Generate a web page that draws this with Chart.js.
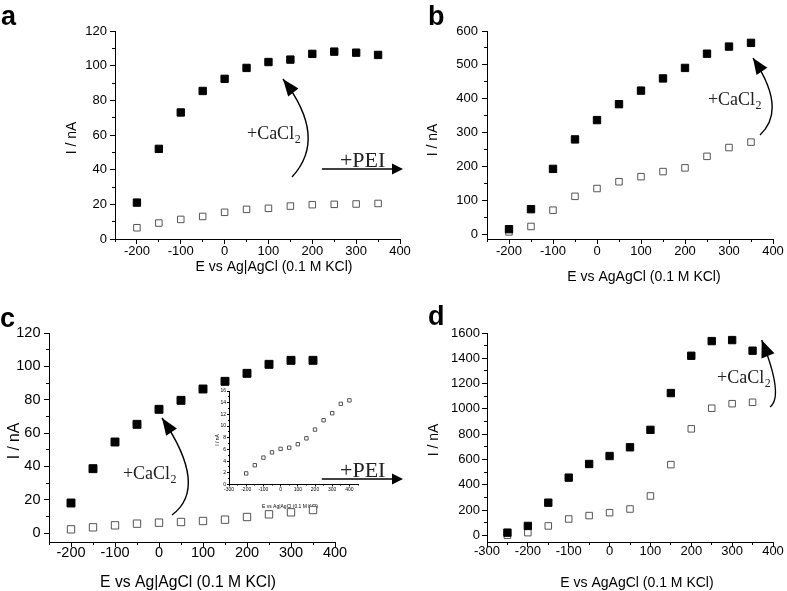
<!DOCTYPE html>
<html>
<head>
<meta charset="utf-8">
<script src="https://cdn.jsdelivr.net/npm/chart.js@4.4.0/dist/chart.umd.min.js"></script>
<style>
  html, body { margin: 0; padding: 0; background: #fff; }
  #wrap { position: relative; width: 787px; height: 591px; overflow: hidden; background: #fff; }
  #wrap canvas { position: absolute; left: 0; top: 0; }
</style>
</head>
<body>
<div id="wrap">
  <canvas id="panelA" width="787" height="591"></canvas>
  <canvas id="panelB" width="787" height="591"></canvas>
  <canvas id="inset" width="787" height="591"></canvas>
  <canvas id="panelC" width="787" height="591"></canvas>
  <canvas id="panelD" width="787" height="591"></canvas>
</div>
<script>
// ============================================
// DATA - potentials (mV) and currents (nA)
// ============================================
const potentials = [-200, -150, -100, -50, 0, 50, 100, 150, 200, 250, 300, 350];
const potentialsD = [-250, -200, -150, -100, -50, 0, 50, 100, 150, 200, 250, 300, 350];
const potentialsInset = [-200, -150, -100, -50, 0, 50, 100, 150, 200, 250, 300, 350, 400];

// filled squares = after CaCl2, open squares = before
const aCaCl2 = [21, 52, 73, 85.4, 92.4, 98.7, 102.1, 103.5, 106.8, 108.1, 107.5, 106.2];
const aBefore = [6.5, 9.2, 11.3, 13, 15.4, 17.1, 17.7, 19, 19.8, 20, 20.2, 20.5];
const bCaCl2 = [15, 74, 193, 280, 337, 384, 424, 460, 491, 533, 554, 565];
const bBefore = [7, 23, 71, 112, 135, 155, 170, 185, 196, 230, 256, 272];
const cCaCl2 = [18, 38.6, 54.6, 65.2, 74.2, 79.6, 86.4, 91, 95.8, 101.2, 103.6, 103.6];
const cBefore = [2.2, 3.4, 4.6, 5.6, 6.2, 6.6, 7.2, 8, 9.6, 11.2, 12.4, 13.8];
const insetBefore = [1.9, 3.3, 4.6, 5.5, 6.1, 6.3, 6.9, 7.9, 9.4, 11, 12.2, 13.8, 14.4];
const dCaCl2 = [21, 74, 258, 456, 564, 627, 696, 834, 1125, 1420, 1536, 1544, 1460];
const dBefore = [0, 21, 74, 129, 156, 179, 208, 311, 559, 842, 1005, 1041, 1052];

// tick labels
const xTicksMain = [-200, -100, 0, 100, 200, 300, 400];
const xTicksWide = [-300, -200, -100, 0, 100, 200, 300, 400];
const yTicks120 = [0, 20, 40, 60, 80, 100, 120];
const yTicks600 = [0, 100, 200, 300, 400, 500, 600];
const yTicks1600 = [0, 200, 400, 600, 800, 1000, 1200, 1400, 1600];
const yTicksInset = [0, 2, 4, 6, 8, 10, 12, 14, 16];

const W = 787, H = 591;
const SANS = 'Liberation Sans, Arial, sans-serif';
const SERIF = 'Liberation Serif, Times New Roman, serif';

// ============================================
// PANEL SETUP - where each plot sits on the page
// ============================================
const panels = [
  {
    id: 'panelA', letter: {text: 'a', x: 1, y: 25},
    area: {left: 115, top: 31, right: 400, bottom: 239},
    xRange: [-250, 400], yRange: [0, 120], xTicks: xTicksMain, yTicks: yTicks120,
    font: 13, titleFont: 14, xPad: 0, yPad: 3, tick: 5, minor: 3,
    xs: potentials, filled: aCaCl2, open: aBefore, rFilled: 5.2, rOpen: 4.6,
    xTitle: {text: 'E vs Ag|AgCl (0.1 M KCl)', x: 274, y: 267},
    yTitle: {text: 'I / nA', x: 72, y: 138},
    curve: {s: [153.7, 35.8], m: [190, 61.2], e: [133, 92.3], len: 17, half: 6.5},
    cacl: [51, 57.7],
    pei: {text: [263, 41.5], from: [222, 40.4], to: [406.8, 40.4]}
  },
  {
    id: 'panelB', letter: {text: 'b', x: 428, y: 25},
    area: {left: 487, top: 31, right: 773, bottom: 239},
    xRange: [-250, 400], yRange: [-14, 600], xTicks: xTicksMain, yTicks: yTicks600,
    font: 13, titleFont: 14, xPad: 0, yPad: 4, tick: 5, minor: 3,
    xs: potentials, filled: bCaCl2, open: bBefore, rFilled: 5.2, rOpen: 4.6,
    xTitle: {text: 'E vs AgAgCl (0.1 M KCl)', x: 644, y: 277},
    yTitle: {text: 'I / nA', x: 433, y: 140},
    curve: {s: [370.5, 293], m: [397.7, 387.4], e: [354.5, 520], len: 16, half: 6.5},
    cacl: [252, 381.5]
  },
  {
    id: 'panelC', letter: {text: 'c', x: 0, y: 327},
    area: {left: 49, top: 333, right: 335, bottom: 542},
    xRange: [-250, 400], yRange: [-5.4, 120], xTicks: xTicksMain, yTicks: yTicks120,
    font: 14.5, titleFont: 15.7, xPad: -2.5, yPad: 3.5, tick: 5, minor: 3,
    xs: potentials, filled: cCaCl2, open: cBefore, rFilled: 5.6, rOpen: 5.2,
    xTitle: {text: 'E vs Ag|AgCl (0.1 M KCl)', x: 188, y: 583},
    yTitle: {text: 'I / nA', x: 15, y: 441},
    curve: {s: [29.5, 10.8], m: [66, 33.6], e: [6.8, 69], len: 17, half: 6.5},
    cacl: [-82, 32.4],
    pei: {text: [411.4, 33.6], from: [370, 32.4], to: [554.5, 32.4]}
  },
  {
    id: 'panelD', letter: {text: 'd', x: 428, y: 325},
    area: {left: 487, top: 333, right: 773, bottom: 542},
    xRange: [-300, 400], yRange: [-53, 1600], xTicks: xTicksWide, yTicks: yTicks1600,
    font: 13, titleFont: 14, xPad: -3, yPad: 2, tick: 5, minor: 3,
    xs: potentialsD, filled: dCaCl2, open: dBefore, rFilled: 5.2, rOpen: 4.6,
    xTitle: {text: 'E vs AgAgCl (0.1 M KCl)', x: 637, y: 583},
    yTitle: {text: 'I / nA', x: 434, y: 440},
    curve: {s: [392.7, 1014.7], m: [404.9, 1188.7], e: [372.3, 1544.6], len: 17, half: 7},
    cacl: [263, 1204.5]
  },
  {
    id: 'inset',
    area: {left: 229, top: 391, right: 358, bottom: 484.5},
    xRange: [-300, 450], yRange: [0, 16], xTicks: xTicksWide, yTicks: yTicksInset,
    font: 5, titleFont: 5, xPad: 0, yPad: 1, tick: 2, minor: 1,
    xs: potentialsInset, filled: null, open: insetBefore, rOpen: 2.4,
    xTitle: {text: 'E vs Ag|AgCl (0.1 M KCl)', x: 290, y: 507},
    yTitle: {text: 'I / nA', x: 218, y: 440}
  }
];

// minor ticks halfway between the labelled ones
function minorValues(ticks, min, max) {
  const step = ticks[1] - ticks[0];
  const out = [];
  for (let v = ticks[0] - step / 2; v <= max + 1e-9; v += step) {
    if (v >= min - 1e-9) out.push(v);
  }
  return out;
}

const align = v => Math.round(v - 0.5) + 0.5;

function arrowHead(ctx, tip, angle, len, half) {
  const bx = tip[0] - Math.cos(angle) * len;
  const by = tip[1] - Math.sin(angle) * len;
  const nx = -Math.sin(angle) * half, ny = Math.cos(angle) * half;
  ctx.beginPath();
  ctx.moveTo(tip[0], tip[1]);
  ctx.lineTo(bx + nx, by + ny);
  ctx.lineTo(bx - nx, by - ny);
  ctx.closePath();
  ctx.fill();
}

// ============================================
// DECORATIONS - minor ticks, titles, arrows, notes
// ============================================
const decorations = {
  id: 'decorations',
  afterDatasetsDraw(chart) {
    const p = chart.options.plugins.decorations.panel;
    const ctx = chart.ctx;
    const xs = chart.scales.x, ys = chart.scales.y;
    const area = chart.chartArea;
    const pt = d => [xs.getPixelForValue(d[0]), ys.getPixelForValue(d[1])];

    ctx.save();
    ctx.strokeStyle = '#000';
    ctx.fillStyle = '#000';
    ctx.lineWidth = 1;

    // minor ticks
    ctx.beginPath();
    minorValues(p.xTicks, p.xRange[0], p.xRange[1]).forEach(v => {
      const x = align(xs.getPixelForValue(v));
      ctx.moveTo(x, area.bottom);
      ctx.lineTo(x, area.bottom + p.minor);
    });
    minorValues(p.yTicks, p.yRange[0], p.yRange[1]).forEach(v => {
      const y = align(ys.getPixelForValue(v));
      ctx.moveTo(area.left, y);
      ctx.lineTo(area.left - p.minor, y);
    });
    ctx.stroke();

    // axis titles
    ctx.font = p.titleFont + 'px ' + SANS;
    ctx.textAlign = 'center';
    ctx.textBaseline = 'middle';
    ctx.fillText(p.xTitle.text, p.xTitle.x, p.xTitle.y);
    ctx.save();
    ctx.translate(p.yTitle.x, p.yTitle.y);
    ctx.rotate(-Math.PI / 2);
    ctx.fillText(p.yTitle.text, 0, 0);
    ctx.restore();

    // panel letter
    if (p.letter) {
      ctx.font = 'bold 27px ' + SANS;
      ctx.textAlign = 'left';
      ctx.textBaseline = 'alphabetic';
      ctx.fillText(p.letter.text, p.letter.x, p.letter.y);
    }

    // curved +CaCl2 arrow
    if (p.curve) {
      const s = pt(p.curve.s), m = pt(p.curve.m), e = pt(p.curve.e);
      const c = [2 * m[0] - (s[0] + e[0]) / 2, 2 * m[1] - (s[1] + e[1]) / 2];
      ctx.lineWidth = 1.4;
      ctx.beginPath();
      ctx.moveTo(s[0], s[1]);
      ctx.quadraticCurveTo(c[0], c[1], e[0], e[1]);
      ctx.stroke();
      arrowHead(ctx, e, Math.atan2(e[1] - c[1], e[0] - c[0]), p.curve.len, p.curve.half);
    }

    // +CaCl2 label with subscript
    if (p.cacl) {
      const [tx, ty] = pt(p.cacl);
      ctx.fillStyle = '#222';
      ctx.textAlign = 'left';
      ctx.textBaseline = 'alphabetic';
      ctx.font = '18px ' + SERIF;
      ctx.fillText('+CaCl', tx, ty);
      const w = ctx.measureText('+CaCl').width;
      ctx.font = '12px ' + SERIF;
      ctx.fillText('2', tx + w + 0.5, ty + 4);
    }

    // +PEI straight arrow
    if (p.pei) {
      const [tx, ty] = pt(p.pei.text);
      ctx.fillStyle = '#222';
      ctx.font = '22px ' + SERIF;
      ctx.textAlign = 'left';
      ctx.textBaseline = 'alphabetic';
      ctx.fillText('+PEI', tx, ty);
      const a = pt(p.pei.from), b = pt(p.pei.to);
      ctx.fillStyle = '#000';
      ctx.lineWidth = 1.4;
      ctx.beginPath();
      ctx.moveTo(a[0], a[1]);
      ctx.lineTo(b[0] - 6, b[1]);
      ctx.stroke();
      arrowHead(ctx, b, 0, 11, 5.5);
    }
    ctx.restore();
  }
};

// ============================================
// BUILD ONE CHART PER PANEL
// ============================================
function makePanel(p) {
  const datasets = [];
  if (p.filled) {
    datasets.push({
      data: p.xs.map((x, i) => ({x: x, y: p.filled[i]})),
      pointStyle: 'rect', pointRadius: p.rFilled, pointHoverRadius: p.rFilled,
      backgroundColor: '#000', borderColor: '#000', borderWidth: 1, clip: false
    });
  }
  datasets.push({
    data: p.xs.map((x, i) => ({x: x, y: p.open[i]})),
    pointStyle: 'rect', pointRadius: p.rOpen, pointHoverRadius: p.rOpen,
    backgroundColor: '#fff', borderColor: '#555', borderWidth: 1, clip: false
  });

  const axis = (ticks, pad, isX) => ({
    type: 'linear',
    min: isX ? p.xRange[0] : p.yRange[0],
    max: isX ? p.xRange[1] : p.yRange[1],
    afterBuildTicks: s => { s.ticks = ticks.map(v => ({value: v})); },
    afterFit: s => {
      if (isX) s.height = H - p.area.bottom;
      else s.width = p.area.left;
    },
    border: {display: true, color: '#000', width: 1},
    grid: {display: true, drawOnChartArea: false, drawTicks: true, tickLength: p.tick, color: '#000', tickColor: '#000'},
    ticks: {
      color: '#000', font: {family: SANS, size: p.font}, padding: pad,
      autoSkip: false, maxRotation: 0,
      callback: v => String(v)   // plain numbers, no thousands separator
    }
  });

  new Chart(document.getElementById(p.id), {
    type: 'scatter',
    data: {datasets: datasets},
    options: {
      responsive: false,
      animation: false,
      events: [],
      layout: {padding: {left: 0, top: p.area.top, right: W - p.area.right, bottom: 0}},
      plugins: {
        legend: {display: false},
        tooltip: {enabled: false},
        decorations: {panel: p}
      },
      scales: {
        x: axis(p.xTicks, p.xPad, true),
        y: axis(p.yTicks, p.yPad, false)
      }
    },
    plugins: [decorations]
  });
}

panels.forEach(makePanel);
</script>
</body>
</html>
